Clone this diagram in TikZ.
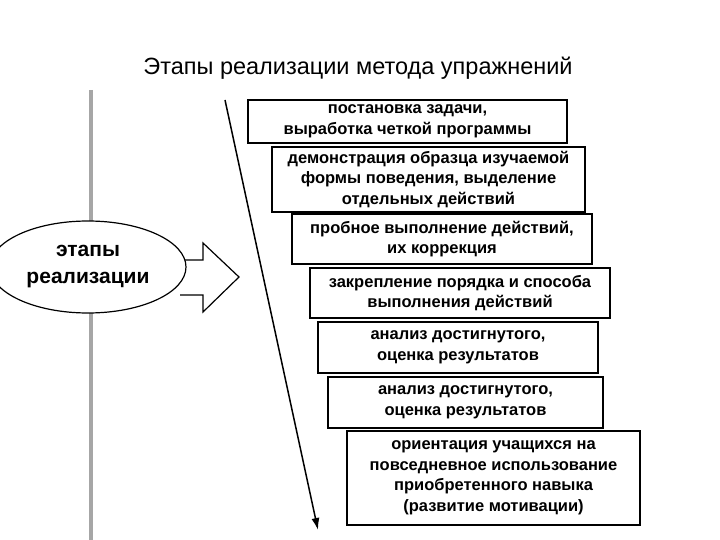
\documentclass[tikz,border=0pt]{standalone}
\usepackage{fontspec}
\setmainfont{Liberation Sans}
\usetikzlibrary{shapes.geometric,arrows.meta}
\begin{document}
\begin{tikzpicture}[x=1pt,y=-1pt,
  stepbox/.style={draw,line width=1.3pt,fill=white,font=\bfseries\fontsize{16.5}{20.5}\selectfont,align=center,inner sep=0pt},
  shadowline/.style={line width=2.2pt}]
\useasboundingbox (0,0) rectangle (720,540);
\node (title) at (358,68) {\fontsize{23.5}{26}\selectfont Этапы реализации метода упражнений};
\draw[line width=4pt,gray!70] (91,90) -- (91,540);
\draw[fill=white,line width=1.2pt] (180,260) -- (203,260) -- (203,243) -- (239,277) -- (203,312) -- (203,295) -- (180,295);
\node[ellipse,draw,line width=1.2pt,fill=white,minimum width=196pt,minimum height=92pt,inner sep=0pt,font=\bfseries\fontsize{21}{27}\selectfont,align=center] (ell) at (88,267) {этапы\\реализации};
\coordinate (a0) at (225,100);
\coordinate (a1) at (318,530);
\draw[line width=1.5pt,-{Latex[length=12pt,width=8pt]}] (a0) -- (a1);
\foreach \i/\xa/\ya/\xb/\yb/\t in {
 1/248/100/567/143/{постановка задачи,\\выработка четкой программы},
 2/272/147/585/212/{демонстрация образца изучаемой\\формы поведения, выделение\\отдельных действий},
 3/292/214/592/264/{пробное выполнение действий,\\их коррекция},
 4/310/268/610/318/{закрепление порядка и способа\\выполнения действий},
 5/318/322/598/373/{анализ достигнутого,\\оценка результатов},
 6/328/377/603/428/{анализ достигнутого,\\оценка результатов},
 7/347/431/640/525/{ориентация учащихся на\\повседневное использование\\приобретенного навыка\\(развитие мотивации)}}
{
 \draw[stepbox] (\xa,\ya) rectangle (\xb,\yb);
 \draw[shadowline] (\xa+2,\yb) -- (\xb,\yb) -- (\xb,\ya+2);
 \node[stepbox,draw=none,fill=none] (b\i) at ({(\xa+\xb)/2},{(\ya+\yb)/2}) {\t};
}
\end{tikzpicture}
\end{document}
